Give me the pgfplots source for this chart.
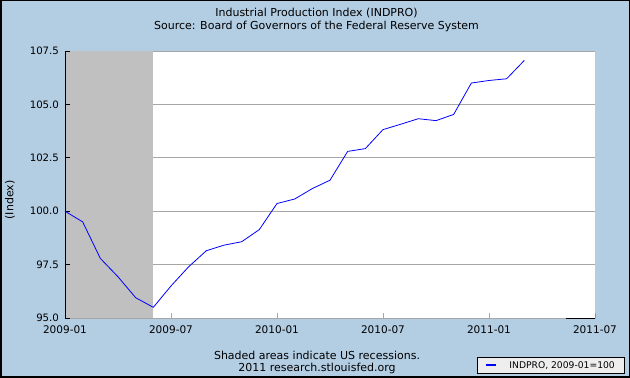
\documentclass[border=0pt]{standalone}
\usepackage{pgfplots}
\pgfplotsset{compat=1.18}
\usepackage{fontspec}
\setmainfont{DejaVu Sans}
\definecolor{bgblue}{HTML}{B3CDE3}
\definecolor{recgray}{HTML}{C0C0C0}
\definecolor{gridgray}{HTML}{A6A6A6}
\definecolor{legbg}{HTML}{EEEEEE}
\begin{document}
\begin{tikzpicture}[x=1pt,y=1pt]
\useasboundingbox (0,0) rectangle (630,378);
\fill[bgblue] (0,0) rectangle (630,378);
\begin{axis}[
  at={(65pt,60pt)}, anchor=south west,
  scale only axis, width=530pt, height=267pt,
  xmin=0, xmax=30, ymin=95, ymax=107.5,
  xtick={0,6,12,18,24,30},
  xticklabels={2009-01,2009-07,2010-01,2010-07,2011-01,2011-07},
  ytick={95,97.5,100,102.5,105,107.5},
  yticklabel style={/pgf/number format/fixed, /pgf/number format/fixed zerofill,
    /pgf/number format/precision=1, font=\fontsize{10.2}{12}\selectfont, xshift=-2.5pt},
  /pgf/number format/assume math mode=true,
  axis background/.style={fill=white},
  axis line style={draw=none},
  ymajorgrids, grid style={gridgray, line width=0.8pt},
  tick align=inside, major tick length=5pt,
  xtick pos=bottom, ytick pos=left,
  x tick style={gridgray, line width=0.8pt},
  y tick style={draw=none},
  xticklabel style={font=\fontsize{10.5}{12}\selectfont, yshift=-4pt},
  legend style={at={(0.7774,-0.2097)}, anchor=south west, fill=legbg, draw=black,
    line width=0.8pt, font=\fontsize{9.2}{11}\selectfont,
    inner xsep=8pt, inner ysep=2pt, column sep=10pt},
  legend image code/.code={\draw[blue, line width=2pt] (0pt,0pt) -- (10pt,0pt);},
]
\addplot[fill=recgray, draw=none, forget plot] coordinates {(0,95) (0,107.5) (5,107.5) (5,95)} -- cycle;
\draw[black, line width=0.8pt] (axis cs:0,95) -- (axis cs:0,107.5);
\pgfplotsinvokeforeach{95,97.5,100,102.5,105,107.5}{
  \draw[black, line width=0.8pt] (axis cs:0,#1) -- ++(5pt,0pt);
}
\draw[black, line width=1pt] (axis cs:28.35,95) -- (axis cs:30,95) -- ++(0pt,4pt);
\addplot[blue, line width=0.8pt] coordinates {
(0,100.0) (1,99.5) (2,97.79) (3,96.93) (4,95.95) (5,95.5) (6,96.5) (7,97.4)
(8,98.15) (9,98.41) (10,98.57) (11,99.14) (12,100.36) (13,100.57) (14,101.06)
(15,101.45) (16,102.80) (17,102.93) (18,103.82) (19,104.07) (20,104.33)
(21,104.24) (22,104.53) (23,106.00) (24,106.12) (25,106.20) (26,107.06)
};
\addlegendentry{INDPRO, 2009-01=100}
\end{axis}
\node[font=\fontsize{11}{13}\selectfont] at (316.5,365) {Industrial Production Index (INDPRO)};
\node[font=\fontsize{11}{13}\selectfont] at (316.5,352) {Source: Board of Governors of the Federal Reserve System};
\node[font=\fontsize{11}{13}\selectfont, rotate=90] at (10,178) {(Index)};
\node[font=\fontsize{11}{13}\selectfont] at (317,23) {Shaded areas indicate US recessions.};
\node[font=\fontsize{11}{13}\selectfont] at (317,10) {2011 research.stlouisfed.org};
\draw[black, line width=1.5pt] (0.75,0.75) rectangle (629.25,377.25);
\end{tikzpicture}
\end{document}
